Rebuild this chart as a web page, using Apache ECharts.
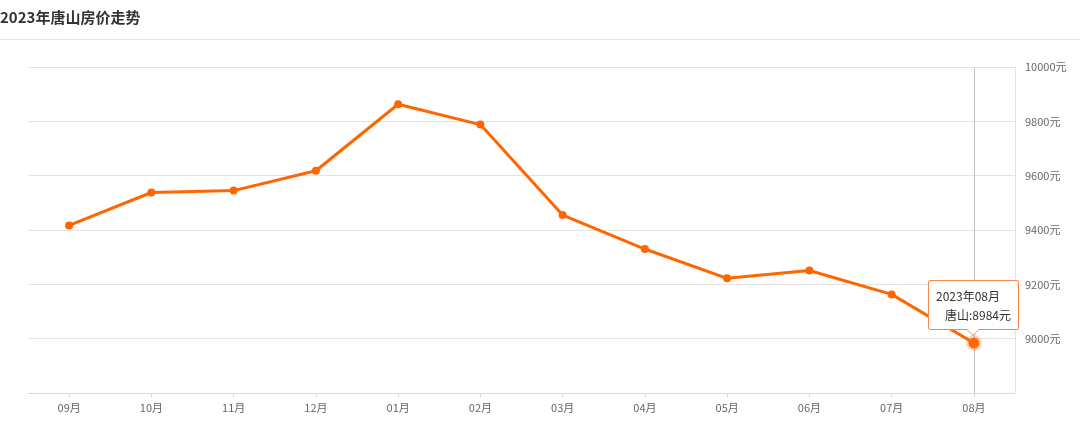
<!DOCTYPE html>
<html>
<head>
<meta charset="utf-8">
<script src="https://cdn.jsdelivr.net/npm/echarts@6/dist/echarts.min.js"></script>
<style>
html,body{margin:0;padding:0;background:#fff;}
#c{width:1080px;height:430px;}
</style>
</head>
<body>
<div id="c"></div>
<script>
const titleText = '2023年唐山房价走势';
const seriesName = '唐山';
const months = ['09月','10月','11月','12月','01月','02月','03月','04月','05月','06月','07月','08月'];
const fullMonths = ['2022年09月','2022年10月','2022年11月','2022年12月','2023年01月','2023年02月','2023年03月','2023年04月','2023年05月','2023年06月','2023年07月','2023年08月'];
const prices = [9417, 9538, 9545, 9618, 9863, 9788, 9455, 9330, 9222, 9251, 9163, 8984];
const yTicks = {min: 8800, max: 10000, interval: 200};
const highlightIndex = 11;

const FONT = '"Noto Sans CJK SC", "Noto Sans", sans-serif';
const ORANGE = '#ff6600';
const TIP_BORDER = '#f5894a';

const chart = echarts.init(document.getElementById('c'), null, {renderer: 'canvas'});

const seriesData = prices.map((v, i) => i === highlightIndex ? {
  value: v,
  symbolSize: 11,
  itemStyle: {color: ORANGE, borderColor: 'rgba(255,120,40,0.3)', borderWidth: 5}
} : v);

const arrowHtml =
  '<span style="position:absolute;left:50%;bottom:-7px;margin-left:-7px;width:0;height:0;' +
  'border-left:7px solid transparent;border-right:7px solid transparent;border-top:7px solid ' + TIP_BORDER + ';"></span>' +
  '<span style="position:absolute;left:50%;bottom:-6px;margin-left:-6px;width:0;height:0;' +
  'border-left:6px solid transparent;border-right:6px solid transparent;border-top:6px solid #fff;"></span>';

chart.setOption({
  animation: false,
  textStyle: {fontFamily: FONT},
  title: {
    text: titleText,
    left: 0,
    top: 10,
    padding: 0,
    textStyle: {fontSize: 15, fontWeight: 'bold', color: '#333', fontFamily: FONT}
  },
  graphic: [{
    type: 'line',
    shape: {x1: 0, y1: 39.5, x2: 1080, y2: 39.5},
    style: {stroke: '#e6e6e6', lineWidth: 1},
    silent: true
  }],
  grid: {left: 28, right: 65, top: 67, bottom: 37},
  tooltip: {
    trigger: 'item',
    alwaysShowContent: true,
    triggerOn: 'none',
    backgroundColor: '#fff',
    borderColor: TIP_BORDER,
    borderWidth: 1,
    padding: [5, 7],
    textStyle: {fontSize: 12, color: '#333', fontFamily: FONT},
    extraCssText: 'box-shadow:none;border-radius:2px;line-height:19px;',
    position: function (pos, params, dom, rect, size) {
      const w = size.contentSize[0], h = size.contentSize[1];
      const cx = rect ? rect.x + rect.width / 2 : pos[0];
      const cy = rect ? rect.y + rect.height / 2 : pos[1];
      return [cx - w / 2, cy - h - 13];
    },
    formatter: function (p) {
      return fullMonths[p.dataIndex] + '<br/><span style="padding-left:9px">' + p.seriesName + ':' + p.value + '元</span>' + arrowHtml;
    }
  },
  xAxis: {
    type: 'category',
    data: months,
    boundaryGap: true,
    axisLine: {show: true, lineStyle: {color: '#d9d9d9', width: 1}},
    axisTick: {show: true, alignWithLabel: true, length: 4, lineStyle: {color: '#d9d9d9'}},
    axisLabel: {color: '#666', fontSize: 11, margin: 9, fontFamily: FONT},
    splitLine: {show: false}
  },
  yAxis: {
    type: 'value',
    position: 'right',
    min: yTicks.min,
    max: yTicks.max,
    interval: yTicks.interval,
    axisLine: {show: true, lineStyle: {color: '#e3e3e3'}},
    axisTick: {show: false},
    axisLabel: {color: '#666', fontSize: 11, margin: 10, showMinLabel: false, fontFamily: FONT,
      formatter: function (v) { return v + '元'; }},
    splitLine: {show: true, lineStyle: {color: '#e3e3e3', width: 1}}
  },
  series: [{
    name: seriesName,
    type: 'line',
    data: seriesData,
    symbol: 'circle',
    symbolSize: 8,
    lineStyle: {color: ORANGE, width: 3},
    itemStyle: {color: ORANGE},
    emphasis: {disabled: true},
    markLine: {
      silent: true,
      symbol: ['none', 'none'],
      label: {show: false},
      lineStyle: {color: '#c4c4c4', type: 'solid', width: 1},
      data: [{xAxis: months[highlightIndex]}],
      z: 1
    },
    z: 3
  }]
});

setTimeout(function () {
  chart.dispatchAction({type: 'showTip', seriesIndex: 0, dataIndex: highlightIndex});
}, 50);
</script>
</body>
</html>
